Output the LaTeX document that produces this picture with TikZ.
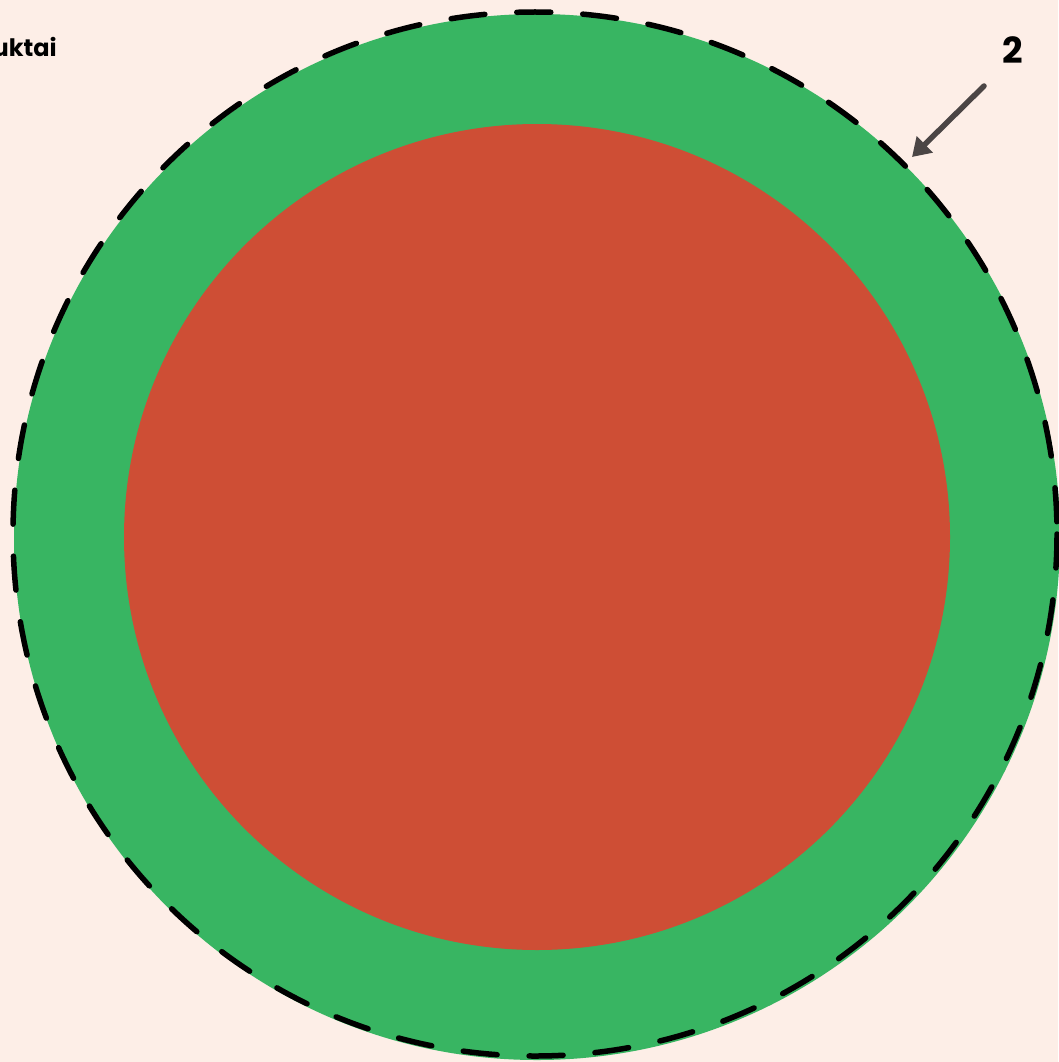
\documentclass[tikz,border=0pt]{standalone}
\usepackage{fontspec}
\setmainfont{Poppins}
\usetikzlibrary{arrows.meta}
\definecolor{bg}{HTML}{FDEEE7}
\definecolor{ringgreen}{HTML}{38B562}
\definecolor{corered}{HTML}{CE4E35}
\definecolor{arrowgray}{HTML}{4B4545}
\tikzset{
  labeltext/.style={font=\bfseries, text=black, inner sep=0pt},
  pointer/.style={draw=arrowgray, line width=5.5pt, line cap=round, -{Triangle[length=18pt,width=22pt]}},
  dashring/.style={draw=black, line width=5.5pt, line cap=round, dash pattern=on 34pt off 32pt}
}
\begin{document}
\begin{tikzpicture}[x=1pt,y=-1pt]
\useasboundingbox (0,0) rectangle (1058,1062);
\fill[bg] (0,0) rectangle (1058,1062);
\fill[ringgreen] (537,537) circle[radius=523];
\fill[corered] (537,537) circle[radius=413];
\draw[dashring] (535,534) circle[radius=522];
\node[labeltext, font=\bfseries\fontsize{24}{28}\selectfont, anchor=base east] (lbl) at (57,57) {Produktai};
\node[labeltext, font=\bfseries\fontsize{36}{42}\selectfont, anchor=base] (num) at (1013,64) {2};
\coordinate (tipstart) at (984,86);
\coordinate (tipend) at (912,157);
\draw[pointer] (tipstart) -- (tipend);
\end{tikzpicture}
\end{document}
